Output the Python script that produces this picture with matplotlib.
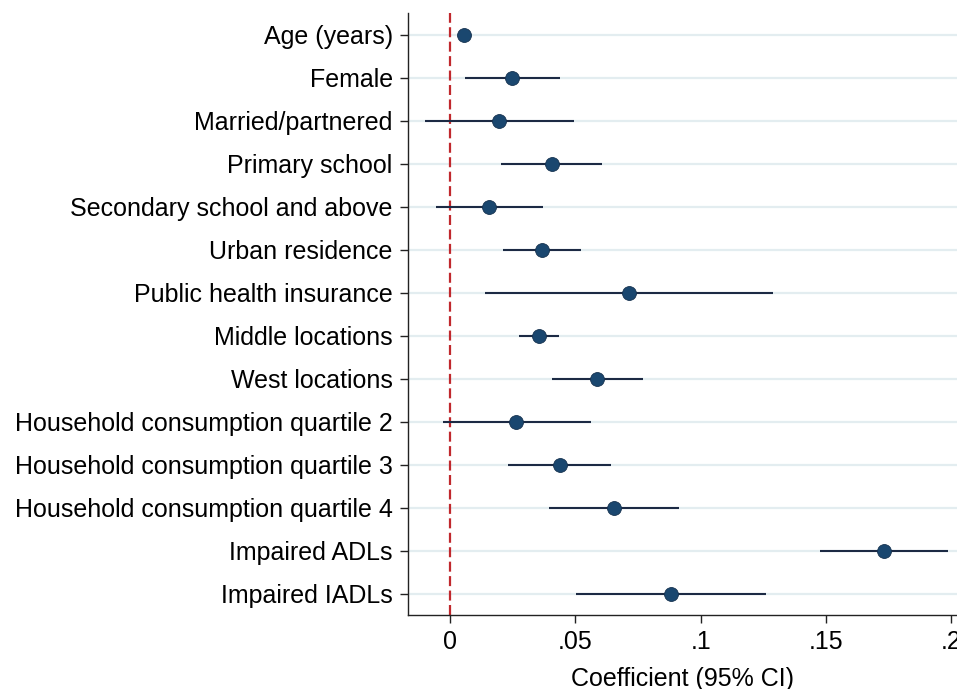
import matplotlib
matplotlib.use("Agg")
import matplotlib.pyplot as plt

plt.rcParams['font.family'] = ['Liberation Sans', 'DejaVu Sans']

labels = ["Age (years)", "Female", "Married/partnered", "Primary school",
          "Secondary school and above", "Urban residence", "Public health insurance",
          "Middle locations", "West locations", "Household consumption quartile 2",
          "Household consumption quartile 3", "Household consumption quartile 4",
          "Impaired ADLs", "Impaired IADLs"]
coef = [0.0056, 0.0249, 0.0197, 0.0406, 0.0157, 0.0368, 0.0714,
        0.0355, 0.0588, 0.0265, 0.0437, 0.0653, 0.1733, 0.0882]
ci_low = [0.0050, 0.0060, -0.0100, 0.0205, -0.0057, 0.0213, 0.0141,
          0.0275, 0.0408, -0.0027, 0.0233, 0.0393, 0.1478, 0.0502]
ci_high = [0.0062, 0.0439, 0.0496, 0.0608, 0.0371, 0.0523, 0.1289,
           0.0436, 0.0769, 0.0561, 0.0641, 0.0914, 0.1988, 0.1259]
xticks = [0, 0.05, 0.1, 0.15, 0.2]
xticklabels = ["0", ".05", ".1", ".15", ".2"]

fig = plt.figure(figsize=(9.57, 6.89), dpi=100)
ax = fig.add_axes([0.4263, 0.1074, 0.5737, 0.8737])

ypos = list(range(len(labels)))

# light horizontal grid at each row
for y in ypos:
    ax.axhline(y, color='#e3edf0', lw=1.6, zorder=0)

ax.axvline(0, color='#c0282d', lw=1.6, dashes=(4.5, 2), zorder=1)

ax.hlines(ypos, ci_low, ci_high, color='#1c2a44', lw=1.5, zorder=2)
ax.plot(coef, ypos, 'o', color='#1a476f', markersize=10,
        markeredgecolor='#16324f', markeredgewidth=0.6, zorder=3)

ax.set_ylim(13.5, -0.5)
ax.set_xlim(-0.0168, 0.2023)
ax.set_yticks(ypos)
ax.set_yticklabels(labels, fontsize=18)
ax.set_xticks(xticks)
ax.set_xticklabels(xticklabels, fontsize=18)
ax.set_xlabel("Coefficient (95% CI)", fontsize=18, labelpad=9)

ax.tick_params(axis='both', direction='out', length=6, width=1, color='#222222', pad=5)
ax.spines['top'].set_visible(False)
ax.spines['right'].set_visible(False)
for s in ['left', 'bottom']:
    ax.spines[s].set_color('#222222')
    ax.spines[s].set_linewidth(1.0)

fig.savefig("out.png", dpi=100)
